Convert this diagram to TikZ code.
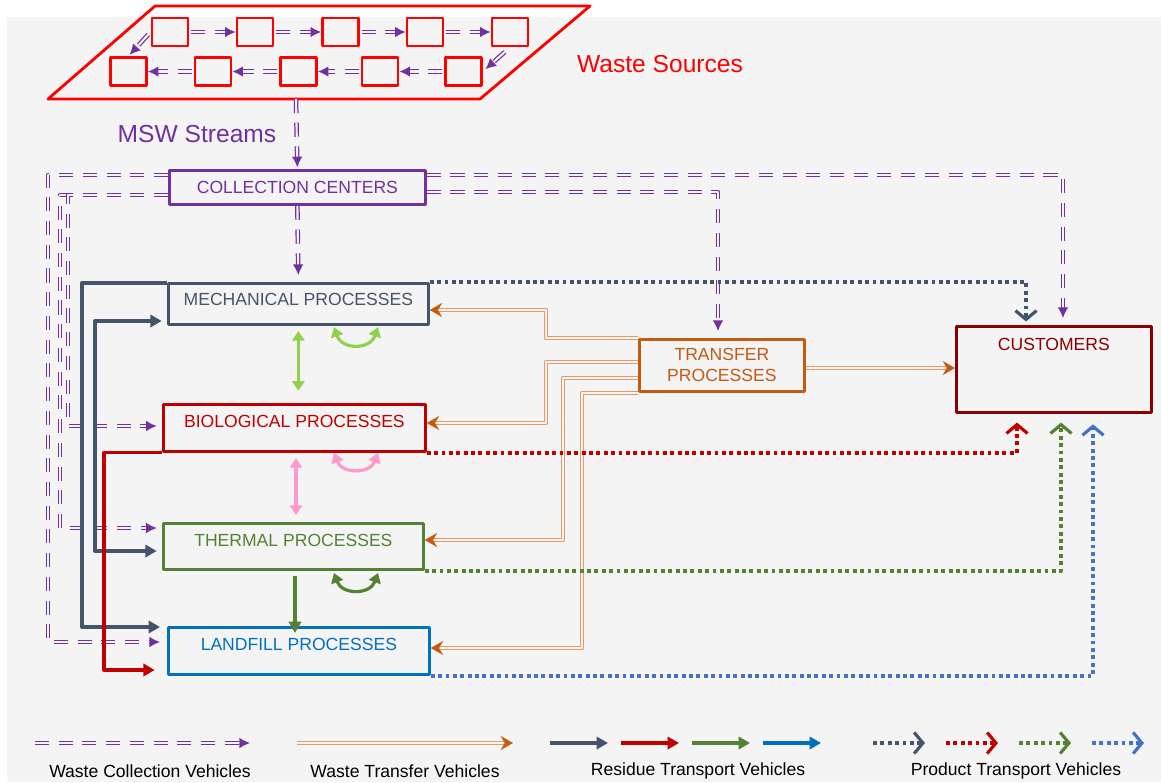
\documentclass[tikz,border=0pt]{standalone}
\usepackage{fontspec}
\setmainfont{Liberation Sans}
\usetikzlibrary{arrows.meta}
\definecolor{bg}{HTML}{F4F4F4}
\definecolor{wpurple}{HTML}{7030A0}
\definecolor{mechc}{HTML}{44546A}
\definecolor{bioc}{HTML}{C00000}
\definecolor{thermc}{HTML}{548235}
\definecolor{landc}{HTML}{0070C0}
\definecolor{prodblue}{HTML}{4472C4}
\definecolor{transc}{HTML}{C55A11}
\definecolor{transl}{HTML}{E39A68}
\definecolor{custc}{HTML}{8B0000}
\definecolor{lgreen}{HTML}{92D050}
\definecolor{pinkc}{HTML}{FF99CC}
\tikzset{
  box/.style={draw=#1, text=#1, line width=1.6pt, anchor=north west, inner sep=0pt, align=center},
  srcbox/.style={draw=red, line width=1.6pt, minimum width=.72cm, minimum height=.56cm, inner sep=0pt},
  collect/.style={draw=wpurple, line width=.7pt, double=bg, double distance=1.2pt, dash pattern=on 8pt off 5.5pt, -{Latex[length=6pt,width=6pt]}},
  transf/.style={draw=transl, line width=.75pt, double=bg, double distance=1.1pt, -{Stealth[length=7pt,width=8pt,color=transc]}},
  resid/.style={draw=#1, line width=1.9pt, -{Triangle[length=6.5pt,width=7pt]}},
  prod/.style={draw=#1, line width=2.1pt, dash pattern=on 2.2pt off 2pt, -{Straight Barb[length=5pt,width=12pt,line width=1.8pt]}},
  link/.style={draw=#1, line width=1.8pt, {Triangle[length=5.5pt,width=7pt]}-{Triangle[length=5.5pt,width=7pt]}},
}
\begin{document}
\begin{tikzpicture}[x=0.02cm, y=-0.02cm, font=\fontsize{10}{12}\selectfont, line join=round]
	\useasboundingbox (0,0) rectangle (1161,782);
	\fill[bg] (7,17) rectangle (1161,782);
	% waste sources
	\draw[red, line width=1.6pt] (48,99) -- (155,6) -- (590,6) -- (480,99) -- cycle;
	\foreach \i/\xa/\xb in {1/170/128.5, 2/255/213, 3/340.5/298.5, 4/425/380, 5/510/463.5} {
		\node[srcbox] (ta\i) at (\xa,32) {};
		\node[srcbox] (tb\i) at (\xb,71.5) {};
	}
	\foreach \i [count=\j from 2] in {1,...,4} {
		\draw[collect, shorten <=1pt] (ta\i.east) -- (ta\j.west);
		\draw[collect, shorten <=1pt] (tb\j.west) -- (tb\i.east);
	}
	\draw[collect, shorten <=2pt, shorten >=1pt] (ta1.west) -- (tb1.north);
	\draw[collect, shorten <=4pt, shorten >=2pt] (ta5.south) -- (tb5.east);
	\node[red, font=\fontsize{14}{16}\selectfont] (wsrc) at (660,64) {Waste Sources};
	\node[wpurple, font=\fontsize{14}{16}\selectfont] (msw) at (197,134) {MSW Streams};
	\coordinate (src) at (296,99);
	% facilities
	\node[box=wpurple, minimum width=5.12cm, minimum height=.68cm] (coll) at (168,169) {COLLECTION CENTERS};
	\node[box=mechc, minimum width=5.2cm, minimum height=.82cm, text depth=5pt] (mech) at (167,282) {MECHANICAL PROCESSES};
	\node[box=bioc, minimum width=5.24cm, minimum height=.94cm, text depth=8pt] (bio) at (162,403) {BIOLOGICAL PROCESSES};
	\node[box=thermc, minimum width=5.2cm, minimum height=.92cm, text depth=7pt] (therm) at (162,522) {THERMAL PROCESSES};
	\node[box=landc, minimum width=5.22cm, minimum height=.94cm, text depth=8pt] (land) at (167,626) {LANDFILL PROCESSES};
	\node[box=transc, minimum width=3.3cm, minimum height=1.04cm] (trans) at (638,338) {TRANSFER\\PROCESSES};
	\node[box=custc, minimum width=3.9cm, minimum height=1.72cm, text depth=28pt] (cust) at (955,325) {CUSTOMERS};
	% waste collection
	\draw[collect, shorten >=1pt] (src) -- (coll.north);
	\draw[collect, shorten >=4pt] (coll.south) -- (mech.north);
	\draw[collect, shorten >=4pt] (coll.west |- 0,175) -| (48,642) -- (land.west |- 0,642);
	\draw[collect, shorten >=3pt] (coll.west |- 0,195) -| (60,528) -- (therm.west |- 0,528);
	\draw[collect, shorten >=3pt] (coll.west |- 0,195) -| (68,426) -- (bio.west |- 0,426);
	\draw[collect, shorten >=4pt] (coll.east |- 0,175) -| (cust.north -| 1063,0);
	\draw[collect, shorten >=4pt] (coll.east |- 0,192) -| (trans.north -| 718,0);
	% residue transport
	\draw[resid=mechc, shorten >=4pt] (mech.north west) ++(0,1) -| (82,627) -- (land.west |- 0,627);
	\draw[resid=mechc, {Triangle[length=6.5pt,width=7pt]}-{Triangle[length=6.5pt,width=7pt]}, shorten >=3pt, shorten <=3pt] (therm.west |- 0,551) -| (95,321) -- (mech.west |- 0,321);
	\draw[resid=bioc, shorten >=7pt] (bio.south west) -| (104,670) -- (land.west |- 0,670);
	\draw[resid=thermc, shorten <=3pt, shorten >=-4pt] (therm.south -| 295,0) -- (land.north -| 295,0);
	% waste transfer
	\draw[transf] (trans.north west) -| (546,310) -- (mech.east |- 0,310);
	\draw[transf] (trans.west |- 0,362) -| (546,423) -- (bio.east |- 0,423);
	\draw[transf] (trans.west |- 0,378) -| (563,540) -- (therm.east |- 0,540);
	\draw[transf] (trans.south west) -| (582,648) -- (land.east |- 0,648);
	\draw[transf] (trans.east |- 0,368) -- (cust.west |- 0,368);
	% product transport
	\draw[prod=mechc, shorten >=2pt] (mech.north east) -| (cust.north -| 1026,0);
	\draw[prod=bioc, shorten >=5pt] (bio.south east) -| (cust.south -| 1017,0);
	\draw[prod=thermc, shorten >=5pt] (therm.south east) -| (cust.south -| 1061,0);
	\draw[prod=prodblue, shorten >=6pt] (land.south east) -| (cust.south -| 1093,0);
	% exchanges between processes
	\draw[link=lgreen, shorten <=3pt, shorten >=7pt] (mech.south) -- (bio.north -| mech.south);
	\draw[link=pinkc, shorten <=3pt, shorten >=4pt] (bio.south -| 296,0) -- (therm.north -| 296,0);
	\draw[link=lgreen] (334,327) .. controls (342,350) and (370,350) .. (378,327);
	\draw[link=pinkc] (334,453) .. controls (342,474) and (370,474) .. (378,453);
	\draw[link=thermc] (334,573) .. controls (342,595) and (370,595) .. (378,573);
	% legend
	\draw[collect] (35,743) -- (250,743);
	\draw[transf] (297,743) -- (513,743);
	\foreach \c [count=\k from 0] in {mechc,bioc,thermc,landc}
		\draw[resid=\c] (550+71*\k,743) -- (608+71*\k,743);
	\foreach \c [count=\k from 0] in {mechc,bioc,thermc,prodblue}
		\draw[prod=\c] (873+73*\k,743) -- (925+73*\k,743);
	\node (lcoll) at (150,771) {Waste Collection Vehicles};
	\node (ltrans) at (405,771) {Waste Transfer Vehicles};
	\node (lres) at (698,771) {Residue Transport Vehicles};
	\node (lprod) at (1016,771) {Product Transport Vehicles};
\end{tikzpicture}
\end{document}
